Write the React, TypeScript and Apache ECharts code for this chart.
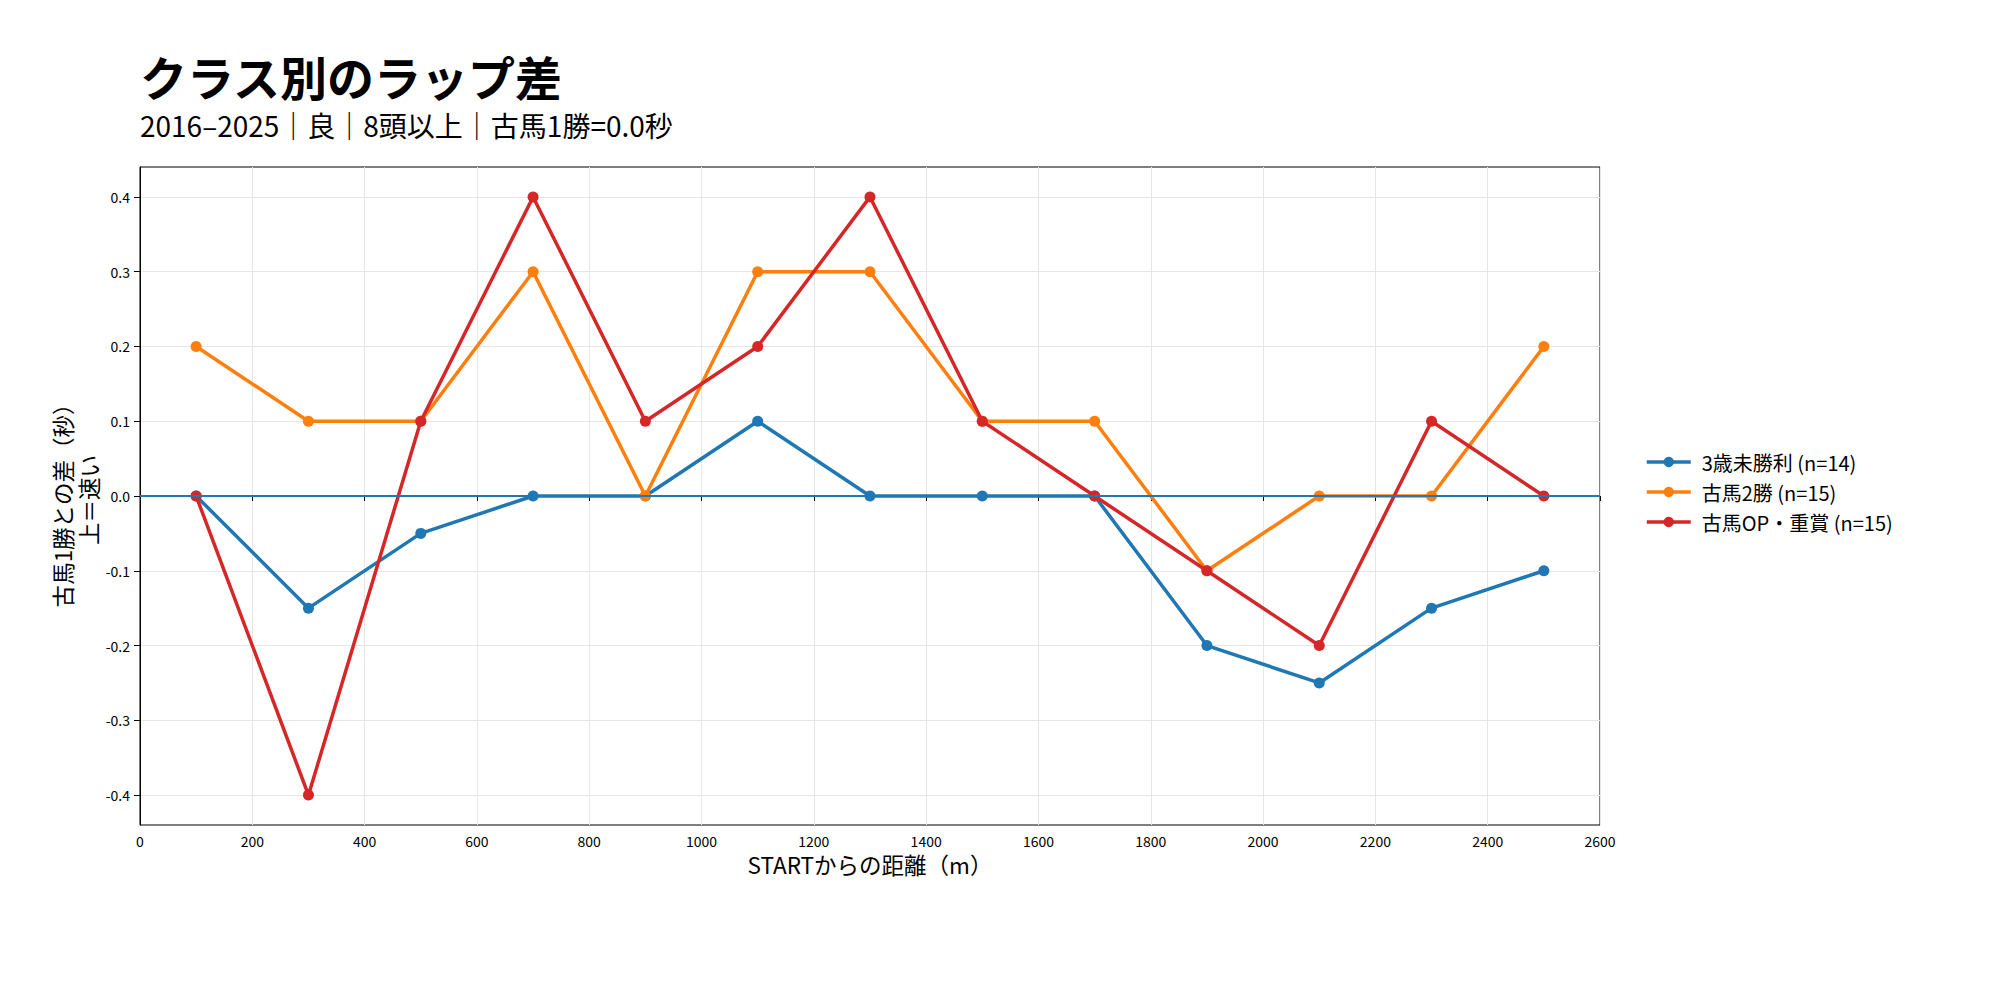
import { useEffect, useRef } from 'react';
import * as echarts from 'echarts';

const FONT = '"Noto Sans CJK JP", "Noto Sans", sans-serif';

const DISTANCES = [100, 300, 500, 700, 900, 1100, 1300, 1500, 1700, 1900, 2100, 2300, 2500];
const MAIDEN_3YO = [0, -0.15, -0.05, 0, 0, 0.1, 0, 0, 0, -0.2, -0.25, -0.15, -0.1];
const OLDER_2WIN = [0.2, 0.1, 0.1, 0.3, 0, 0.3, 0.3, 0.1, 0.1, -0.1, 0, 0, 0.2];
const OLDER_OP = [0, -0.4, 0.1, 0.4, 0.1, 0.2, 0.4, 0.1, 0, -0.1, -0.2, 0.1, 0];

const SERIES_NAMES = ['3歳未勝利 (n=14)', '古馬2勝 (n=15)', '古馬OP・重賞 (n=15)'];
const COLORS = ['#1f77b4', '#ff7f0e', '#d62728'];
const Y_TICKS = [-0.4, -0.3, -0.2, -0.1, 0, 0.1, 0.2, 0.3, 0.4];

const TITLE = 'クラス別のラップ差';
const SUBTITLE = '2016–2025｜良｜8頭以上｜古馬1勝=0.0秒';

export default function App() {
  const ref = useRef<HTMLDivElement>(null);

  useEffect(() => {
    document.body.style.margin = '0';
    if (!ref.current) return;
    const chart = echarts.init(ref.current, null, { renderer: 'svg' });
    const values = [MAIDEN_3YO, OLDER_2WIN, OLDER_OP];

    chart.setOption({
      animation: false,
      backgroundColor: '#fff',
      textStyle: { fontFamily: FONT },
      graphic: [
        {
          type: 'text',
          x: 140,
          y: 75,
          style: {
            text: TITLE,
            fontSize: 47,
            lineHeight: 48,
            fontWeight: 'bold',
            fontFamily: FONT,
            fill: '#000',
            textVerticalAlign: 'middle',
          },
        },
        {
          type: 'text',
          x: 140,
          y: 125,
          style: {
            text: SUBTITLE,
            fontSize: 28,
            lineHeight: 28,
            fontFamily: FONT,
            fill: '#000',
            textVerticalAlign: 'middle',
          },
        },
        {
          type: 'text',
          x: 75,
          y: 500,
          rotation: Math.PI / 2,
          style: {
            text: '古馬1勝との差（秒）\n上＝速い',
            fontSize: 22.5,
            lineHeight: 26,
            fontFamily: FONT,
            fill: '#000',
            textAlign: 'center',
            textVerticalAlign: 'middle',
          },
        },
      ],
      grid: {
        left: 140,
        right: 400,
        top: 167,
        bottom: 157,
        show: true,
        borderColor: '#000',
        borderWidth: 1,
        backgroundColor: 'transparent',
      },
      legend: {
        orient: 'vertical',
        left: 1645,
        top: 452,
        padding: 0,
        itemWidth: 44,
        itemHeight: 13,
        itemGap: 10,
        lineStyle: { width: 3.5 },
        textStyle: { fontSize: 20, color: '#000', fontFamily: FONT, padding: [0, 0, 0, 6] },
        data: SERIES_NAMES,
      },
      xAxis: {
        type: 'value',
        min: 0,
        max: 2600,
        interval: 200,
        name: 'STARTからの距離（m）',
        nameLocation: 'middle',
        nameGap: 24,
        nameTextStyle: { fontSize: 22.5, color: '#000', fontFamily: FONT },
        axisLine: { lineStyle: { color: '#000', width: 1 } },
        axisTick: { show: true, length: 5, lineStyle: { color: '#000' } },
        axisLabel: {
          fontSize: 14,
          color: '#000',
          margin: 9,
          fontFamily: FONT,
          formatter: (v: number) => String(v),
        },
        splitLine: { show: true, lineStyle: { color: '#e6e6e6', width: 1 } },
      },
      yAxis: {
        type: 'value',
        min: -0.44,
        max: 0.44,
        axisLine: { show: true, lineStyle: { color: '#000', width: 1 } },
        axisTick: { show: true, length: 6, lineStyle: { color: '#000' }, customValues: Y_TICKS },
        axisLabel: {
          fontSize: 14,
          color: '#000',
          margin: 10,
          fontFamily: FONT,
          customValues: Y_TICKS,
          formatter: (v: number) => v.toFixed(1),
        },
        splitLine: { show: true, lineStyle: { color: '#e6e6e6', width: 1 } },
      },
      series: values.map((vals, i) => ({
        name: SERIES_NAMES[i],
        type: 'line',
        data: DISTANCES.map((d, j) => [d, vals[j]]),
        symbol: 'circle',
        symbolSize: 11,
        showSymbol: true,
        color: COLORS[i],
        lineStyle: { width: 3.5, color: COLORS[i] },
        itemStyle: { color: COLORS[i] },
        z: 2 + i,
        ...(i === 0
          ? {
              markLine: {
                silent: true,
                symbol: ['none', 'none'],
                label: { show: false },
                lineStyle: { color: COLORS[0], width: 2, type: 'solid' },
                data: [{ yAxis: 0 }],
              },
            }
          : {}),
      })),
    });

    return () => chart.dispose();
  }, []);

  return <div ref={ref} style={{ width: 2000, height: 982 }} />;
}
